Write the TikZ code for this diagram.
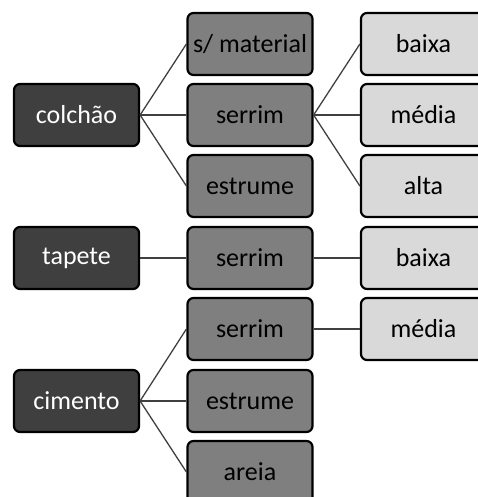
\documentclass[tikz,border=0pt]{standalone}
\usepackage{fontspec}
\setmainfont{Carlito}
\definecolor{cA}{HTML}{3F3F3F}
\definecolor{cB}{HTML}{7F7F7F}
\definecolor{cC}{HTML}{D9D9D9}
\definecolor{lnk}{HTML}{404040}
\tikzset{
  boxbase/.style={draw=black, line width=2.2pt, rounded corners=6pt,
    minimum width=125pt, minimum height=62pt, inner sep=0pt,
    font=\fontsize{26}{30}\selectfont},
  lvlone/.style={boxbase, fill=cA, text=white},
  lvltwo/.style={boxbase, fill=cB, text=black},
  lvlthree/.style={boxbase, fill=cC, text=black},
  link/.style={draw=lnk, line width=1.3pt}
}
\begin{document}
\begin{tikzpicture}[x=1pt,y=-1pt]
\useasboundingbox (0,0) rectangle (478,497);
\clip (0,0) rectangle (478,497);
% column positions
\def\xa{76.5}\def\xb{250}\def\xc{423.5}
% level 1
\node[lvlone] (colchao) at (\xa,115) {colchão};
\node[lvlone] (tapete) at (\xa,258) {tapete};
\node[lvlone] (cimento) at (\xa,401) {cimento};
% level 2
\node[lvltwo] (smat) at (\xb,44) {s/ material};
\node[lvltwo] (serA) at (\xb,115) {serrim};
\node[lvltwo] (estA) at (\xb,186) {estrume};
\node[lvltwo] (serB) at (\xb,258) {serrim};
\node[lvltwo] (serC) at (\xb,329) {serrim};
\node[lvltwo] (estC) at (\xb,401) {estrume};
\node[lvltwo] (areia) at (\xb,472) {areia};
% level 3
\node[lvlthree] (baixaA) at (\xc,44) {baixa};
\node[lvlthree] (mediaA) at (\xc,115) {média};
\node[lvlthree] (altaA) at (\xc,186) {alta};
\node[lvlthree] (baixaB) at (\xc,258) {baixa};
\node[lvlthree] (mediaC) at (\xc,329) {média};
% connectors
\draw[link] (colchao.east) -- (smat.west);
\draw[link] (colchao.east) -- (serA.west);
\draw[link] (colchao.east) -- (estA.west);
\draw[link] (serA.east) -- (baixaA.west);
\draw[link] (serA.east) -- (mediaA.west);
\draw[link] (serA.east) -- (altaA.west);
\draw[link] (tapete.east) -- (serB.west);
\draw[link] (serB.east) -- (baixaB.west);
\draw[link] (cimento.east) -- (serC.west);
\draw[link] (cimento.east) -- (estC.west);
\draw[link] (cimento.east) -- (areia.west);
\draw[link] (serC.east) -- (mediaC.west);
\end{tikzpicture}
\end{document}
